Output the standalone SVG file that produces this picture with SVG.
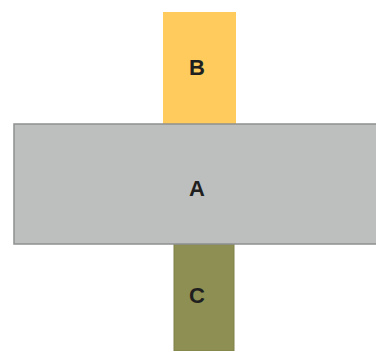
<svg xmlns="http://www.w3.org/2000/svg" width="376" height="351" viewBox="0 0 376 351">
<style>
.lbl{font-family:"Liberation Sans",Arial,sans-serif;font-weight:bold;font-size:22px;fill:#1f1f1f;text-anchor:middle}
</style>
<rect width="376" height="351" fill="#ffffff"/>
<g id="connectors"></g>
<g id="B">
<rect x="163" y="12" width="73" height="112" fill="#fecb5c"/>
<text class="lbl" x="197" y="74.5">B</text>
</g>
<g id="C">
<rect x="174" y="244" width="60" height="107" fill="#8e8f52" stroke="#7f8048" stroke-width="1"/>
<text class="lbl" x="197" y="302.5">C</text>
</g>
<g id="A">
<rect x="14" y="124" width="364" height="120" fill="#bdbfbe" stroke="#8f9190" stroke-width="1.5"/>
<text class="lbl" x="197" y="195.5">A</text>
</g>
</svg>
